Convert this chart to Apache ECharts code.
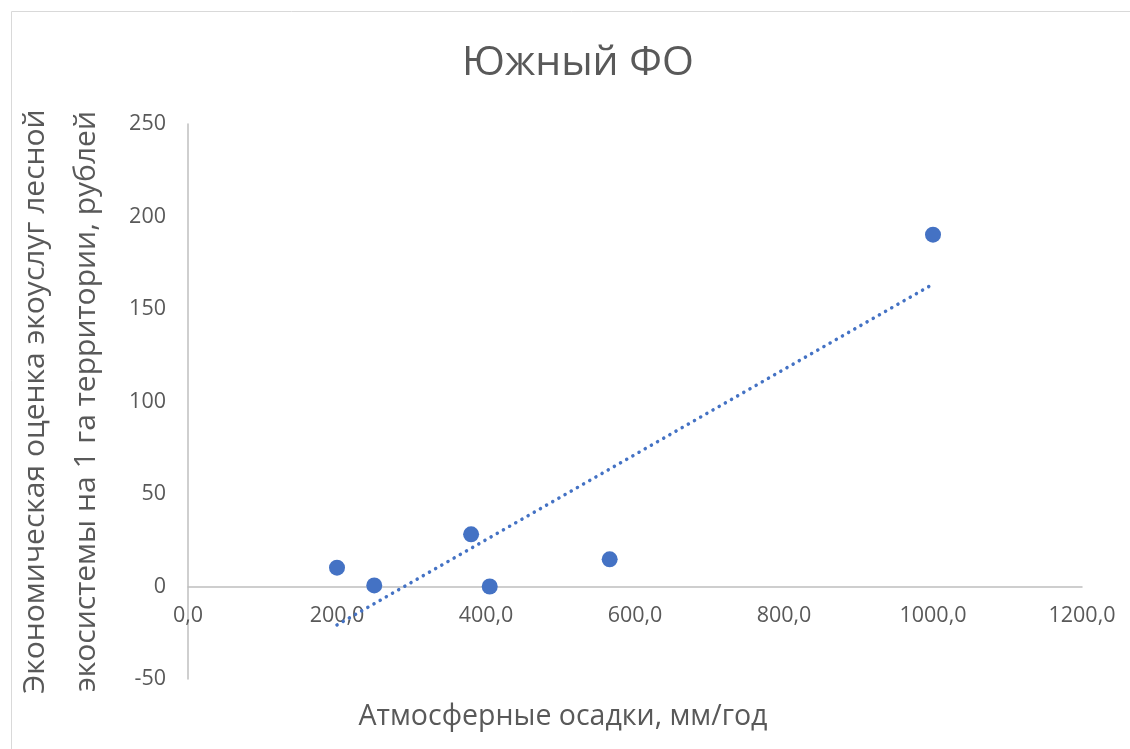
<!DOCTYPE html>
<html><head><meta charset="utf-8">
<script src="https://cdn.jsdelivr.net/npm/echarts@6/dist/echarts.min.js"></script>
<style>html,body{margin:0;padding:0;background:#fff}#c{width:1130px;height:749px}</style>
</head><body><div id="c"></div>
<script>
const titleText = 'Южный ФО';
const xName = 'Атмосферные осадки, мм/год';
const yName = 'Экономическая оценка экоуслуг лесной\nэкосистемы на 1 га территории, рублей';
const precip = [200, 250, 380, 405, 566, 1000];
const value = [10.2, 0.6, 28.2, 0, 14.7, 190.2];
const xTicks = {min: 0, max: 1200, interval: 200};
const yTicks = {min: -50, max: 250, interval: 50};

// linear trend from data (least squares)
const n = precip.length;
const mx = precip.reduce((a,b)=>a+b,0)/n;
const my = value.reduce((a,b)=>a+b,0)/n;
let sxy=0, sxx=0;
for (let i=0;i<n;i++){ sxy += (precip[i]-mx)*(value[i]-my); sxx += (precip[i]-mx)**2; }
const slope = sxy/sxx, icpt = my - slope*mx;
const xmin = Math.min(...precip), xmax = Math.max(...precip);
const trend = [[xmin, icpt+slope*xmin],[xmax, icpt+slope*xmax]];

const txt = '#595959', axisC = '#bfbfbf', blue = '#4472C4';
const font = '"Open Sans", "Noto Sans", sans-serif';
const chart = echarts.init(document.getElementById('c'));
chart.setOption({
  animation: false,
  textStyle: {fontFamily: font},
  graphic: [{type:'rect', shape:{x:11.5,y:11.5,width:1130,height:749}, style:{fill:'none', stroke:'#d9d9d9', lineWidth:1}, silent:true}],
  title: [
    {text: titleText, left: 573, top: 38, textAlign: 'center', textStyle:{fontSize: 41, fontWeight:'normal', color: txt, fontFamily: font}},
    {text: xName, left: 558, top: 697, textAlign: 'center', textStyle:{fontSize: 28.5, fontWeight:'normal', color: txt, fontFamily: font}}
  ],
  grid: {left: 188, right: 48, top: 124, bottom: 70, containLabel: false, outerBoundsMode: 'none'},
  xAxis: {
    type: 'value', min: xTicks.min, max: xTicks.max, interval: xTicks.interval,
    axisLine: {show: true, onZero: true, lineStyle: {color: axisC, width: 1.5}},
    axisTick: {show: false}, splitLine: {show: false},
    axisLabel: {color: txt, fontSize: 21.5, margin: -74, formatter: v => v.toFixed(1).replace('.', ','), fontFamily: font}
  },
  yAxis: {
    type: 'value', min: yTicks.min, max: yTicks.max, interval: yTicks.interval,
    name: yName, nameLocation: 'middle', nameGap: 76, nameRotate: 90,
    nameTextStyle: {fontSize: 30, color: txt, lineHeight: 51, fontFamily: font},
    axisLine: {show: true, onZero: false, lineStyle: {color: axisC, width: 1.5}},
    axisTick: {show: false}, splitLine: {show: false},
    axisLabel: {color: txt, fontSize: 21.5, margin: 22, fontFamily: font}
  },
  series: [
    {type: 'line', data: trend, symbol: 'none', silent: true, z: 1,
     lineStyle: {color: blue, width: 3.5, type: [0.1, 7], cap: 'round'}},
    {type: 'scatter', data: precip.map((x,i)=>[x, value[i]]), symbolSize: 16, z: 2,
     itemStyle: {color: blue, opacity: 1}}
  ]
});
</script></body></html>
